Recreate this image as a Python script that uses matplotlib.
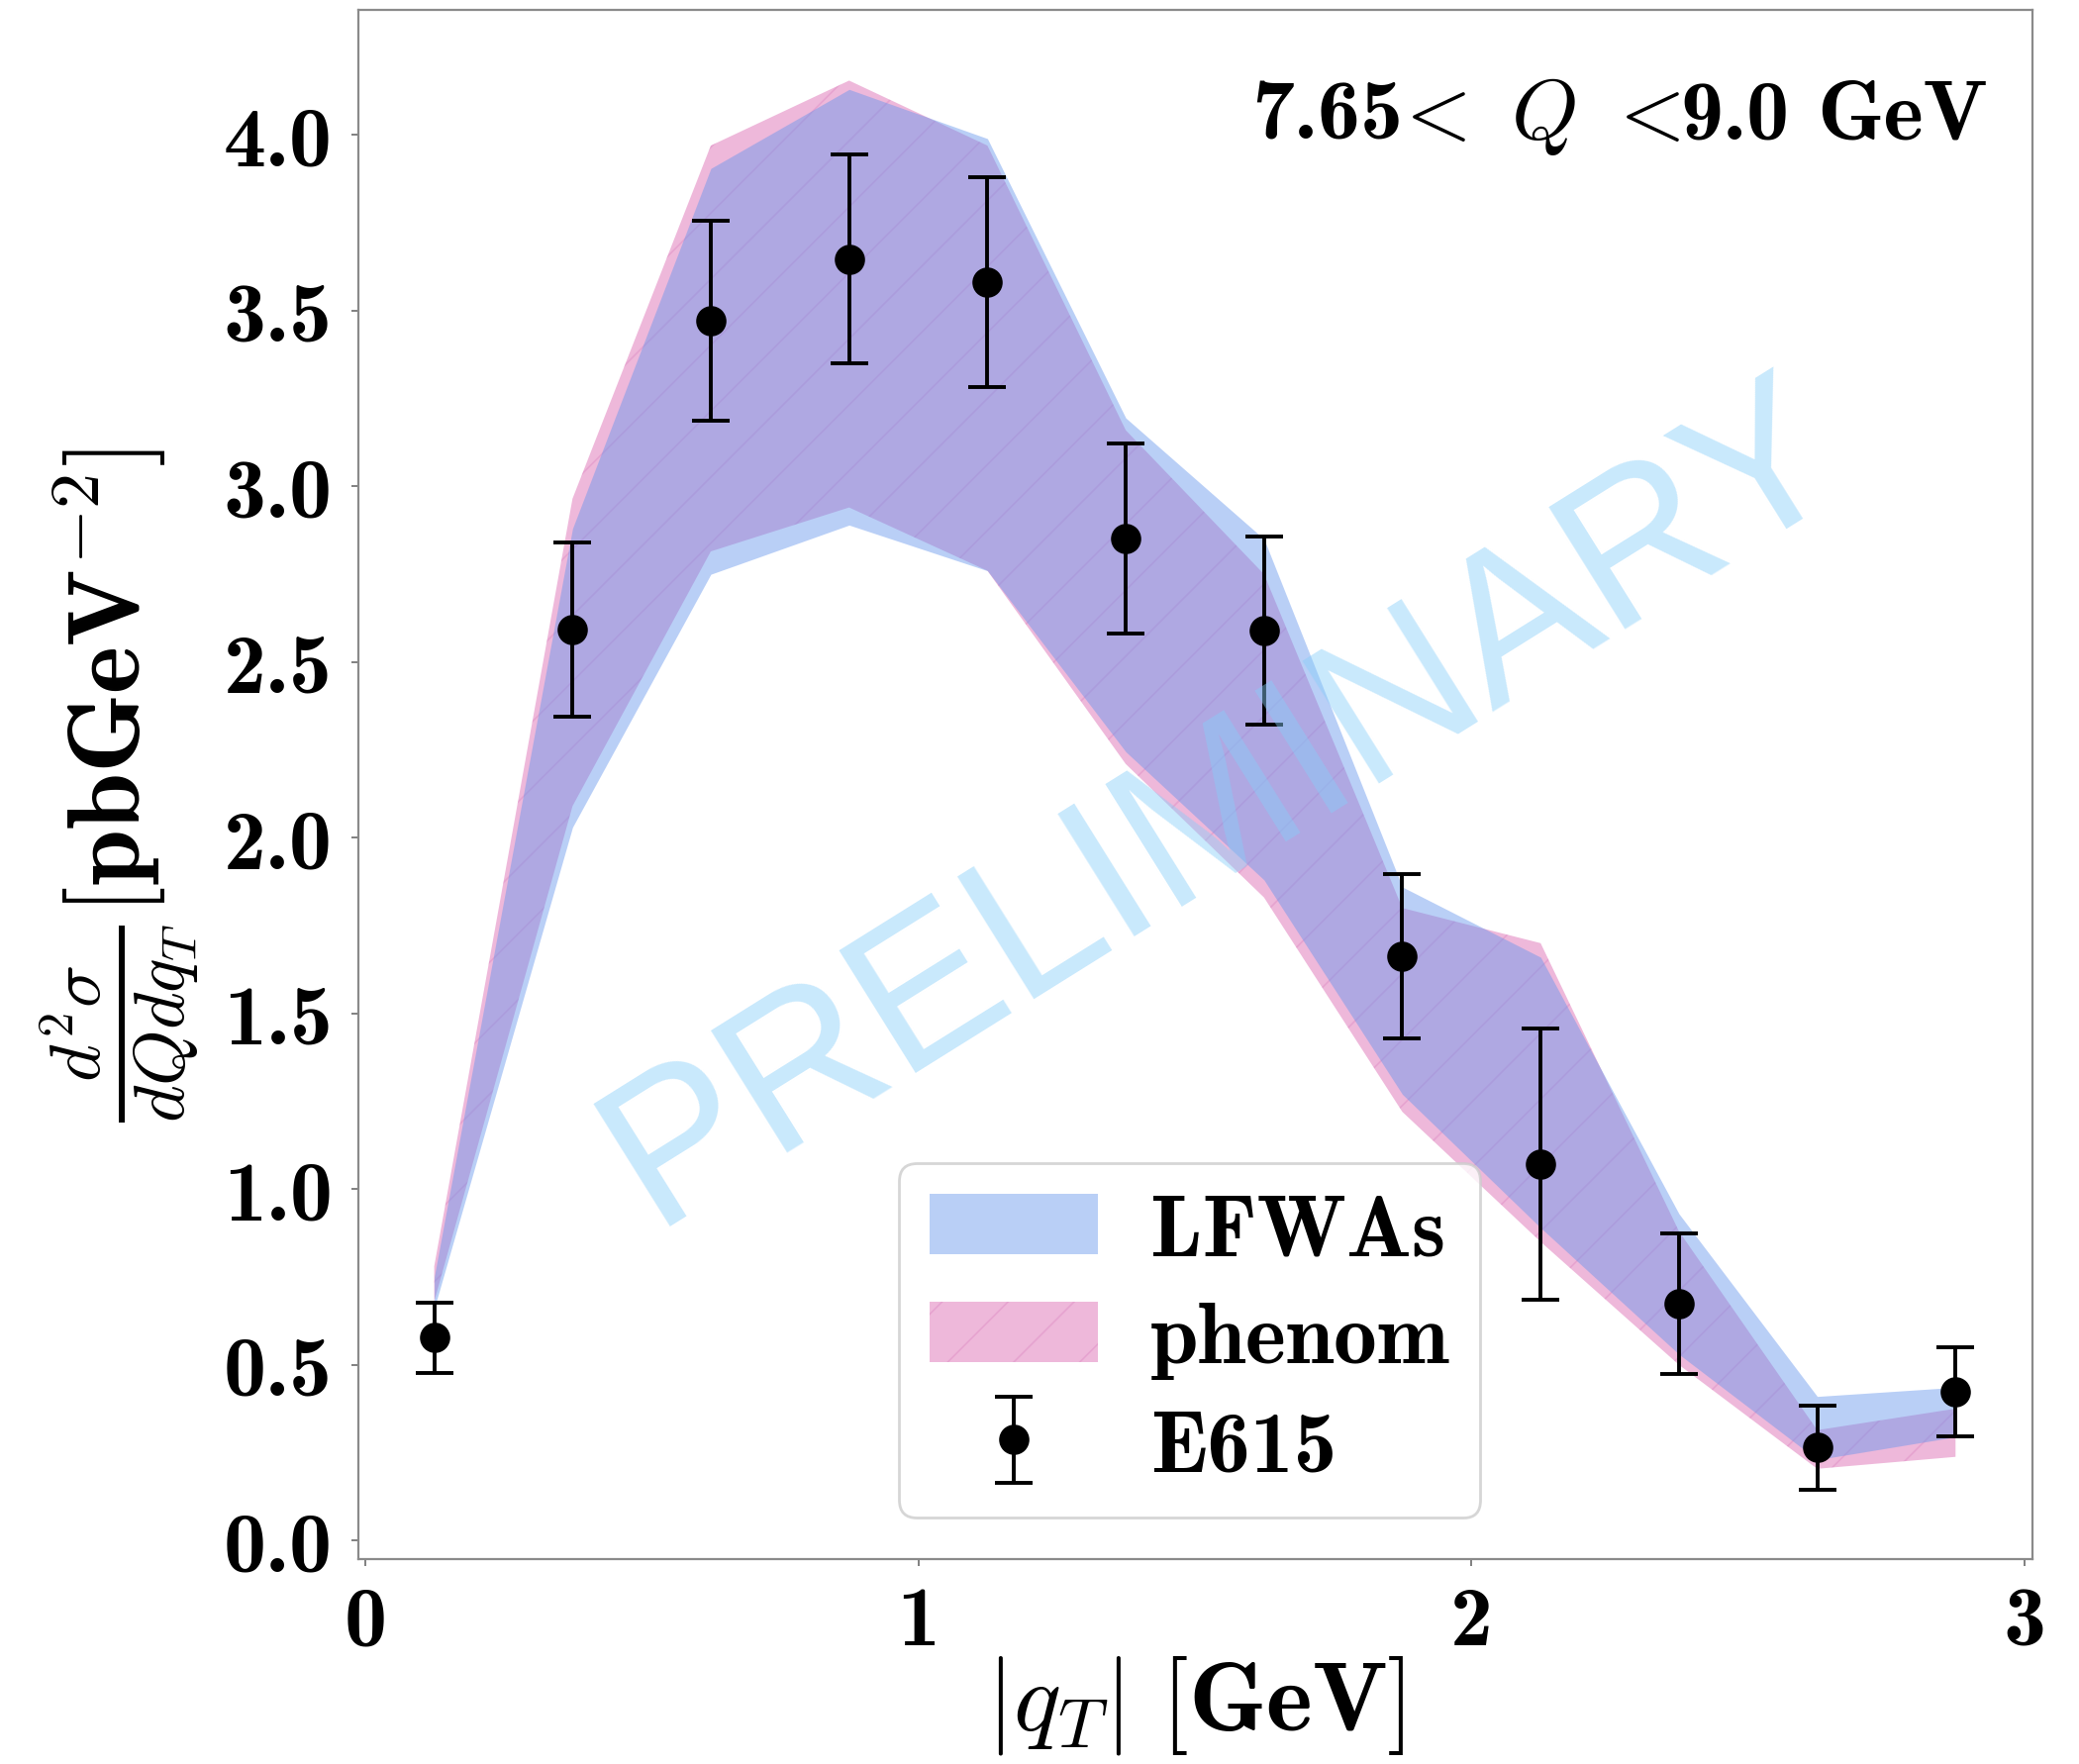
import matplotlib
matplotlib.use("Agg")
import matplotlib.pyplot as plt
from matplotlib.offsetbox import TextArea, HPacker, AnchoredOffsetbox

plt.rcParams["mathtext.fontset"] = "cm"
plt.rcParams["hatch.linewidth"] = 0.6

# transverse momentum bin centres [GeV]
qT = [0.125, 0.375, 0.625, 0.875, 1.125, 1.375, 1.625, 1.875, 2.125, 2.375, 2.625, 2.875]

# E615 data and uncertainties
e615 = [0.578, 2.592, 3.471, 3.647, 3.582, 2.852, 2.589, 1.663, 1.071, 0.675, 0.265, 0.423]
e615_err = [0.100, 0.248, 0.285, 0.298, 0.298, 0.270, 0.268, 0.234, 0.387, 0.200, 0.120, 0.128]

# LFWAs prediction band
lfwa_lo = [0.66, 2.03, 2.75, 2.89, 2.76, 2.245, 1.88, 1.27, 0.89, 0.53, 0.23, 0.295]
lfwa_hi = [0.75, 2.88, 3.905, 4.13, 3.99, 3.195, 2.85, 1.86, 1.66, 0.93, 0.41, 0.436]

# phenomenological fit band
phenom_lo = [0.68, 2.09, 2.815, 2.94, 2.76, 2.21, 1.83, 1.22, 0.85, 0.50, 0.204, 0.238]
phenom_hi = [0.78, 2.965, 3.97, 4.155, 3.97, 3.16, 2.75, 1.80, 1.70, 0.88, 0.314, 0.375]

x_ticks = [0, 1, 2, 3]
x_ticklabels = ["0", "1", "2", "3"]
y_ticks = [0.0, 0.5, 1.0, 1.5, 2.0, 2.5, 3.0, 3.5, 4.0]
y_ticklabels = ["0.0", "0.5", "1.0", "1.5", "2.0", "2.5", "3.0", "3.5", "4.0"]

BOLD = "cmb10"

fig = plt.figure(figsize=(10.5, 8.915), dpi=200)
ax = fig.add_axes([0.1724, 0.1161, 0.8052, 0.8777])

ph = ax.fill_between(qT, phenom_lo, phenom_hi,
                     facecolor=(0.78, 0.08, 0.52, 0.3),
                     edgecolor=(0.70, 0.10, 0.55, 0.13),
                     hatch="/", lw=0, zorder=1)
lf = ax.fill_between(qT, lfwa_lo, lfwa_hi, color="cornflowerblue",
                     alpha=0.45, lw=0, zorder=2)
eb = ax.errorbar(qT, e615, yerr=e615_err, fmt="o", color="black", ms=10,
                 capsize=7, elinewidth=1.4, capthick=1.4, zorder=3)

ax.set_xlim(-0.012, 3.014)
ax.set_ylim(-0.053, 4.356)
ax.set_xticks(x_ticks)
ax.set_xticklabels(x_ticklabels, fontfamily=BOLD, fontsize=31)
ax.set_yticks(y_ticks)
ax.set_yticklabels(y_ticklabels, fontfamily=BOLD, fontsize=31)
ax.tick_params(length=2.5, width=0.7, color="#808080", pad=7)
for sp in ax.spines.values():
    sp.set_color("#8a8a8a")
    sp.set_linewidth(0.8)

ax.set_xlabel(r"$|q_T|\ \mathbf{[GeV]}$", fontsize=36, labelpad=-3)
ax.set_ylabel(r"$\frac{d^2\sigma}{dQdq_T}\mathbf{[pbGeV^{-2}]}$", fontsize=37, labelpad=8)

# kinematic bin label
parts = [
    TextArea("7.65", textprops=dict(family=BOLD, size=31)),
    TextArea(r"$\!<\ Q\ <\!$", textprops=dict(size=31)),
    TextArea("9.0", textprops=dict(family=BOLD, size=31)),
    TextArea(" ", textprops=dict(size=31)),
    TextArea("GeV", textprops=dict(family=BOLD, size=31)),
]
title = HPacker(children=parts, align="baseline", pad=0, sep=0)
ax.add_artist(AnchoredOffsetbox(loc="upper right", child=title, frameon=False,
                                pad=0, borderpad=0, bbox_to_anchor=(0.973, 0.959),
                                bbox_transform=ax.transAxes))

ax.legend(handles=[lf, ph, eb], labels=["LFWAs", "phenom", "E615"],
          loc="lower left", bbox_to_anchor=(0.323, 0.027), borderaxespad=0,
          prop=dict(family=BOLD, size=31.5),
          handlelength=1.95, handletextpad=0.6, labelspacing=0.35, borderpad=0.35)

ax.text(0.517, 0.487, "PRELIMINARY", transform=ax.transAxes, rotation=32,
        rotation_mode="anchor", ha="center", va="center", fontsize=76,
        family="Liberation Sans", color="lightskyblue", alpha=0.45, zorder=5)

fig.savefig("out.png", dpi=200)
